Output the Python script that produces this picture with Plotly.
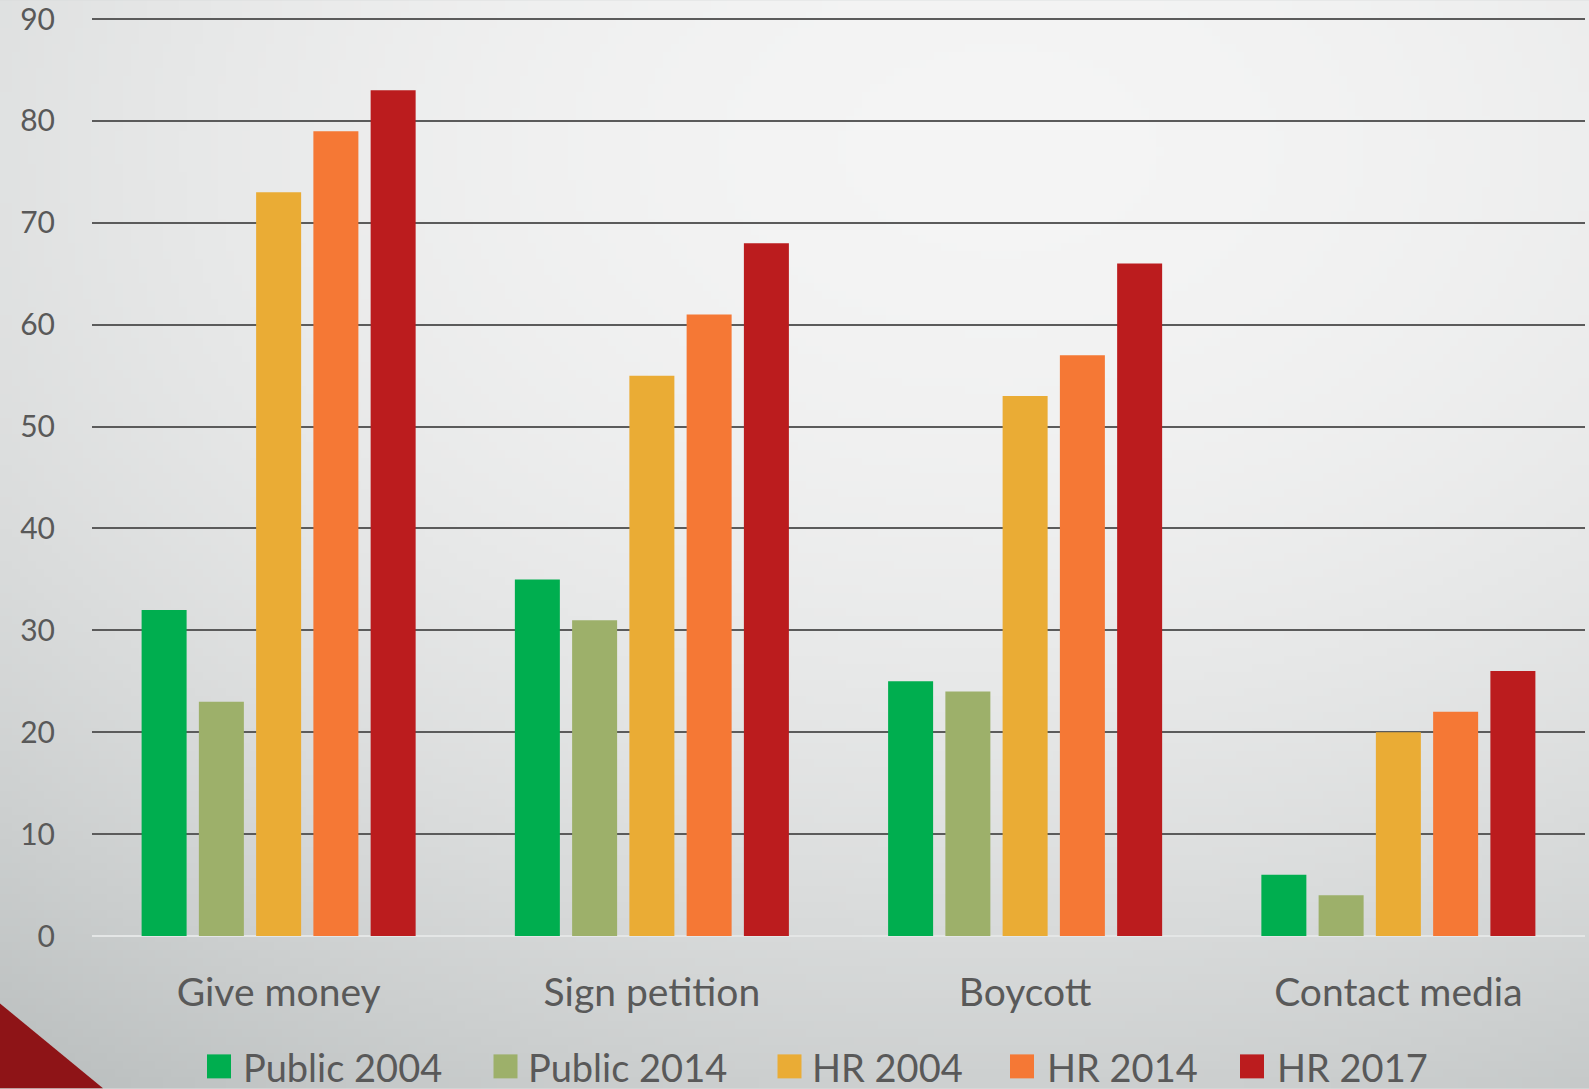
import base64
import struct
import zlib

import plotly.graph_objects as go

# ---------------- data ----------------
categories = ["Give money", "Sign petition", "Boycott", "Contact media"]
series_names = ["Public 2004", "Public 2014", "HR 2004", "HR 2014", "HR 2017"]
public_2004 = [32, 35, 25, 6]
public_2014 = [23, 31, 24, 4]
hr_2004 = [73, 55, 53, 20]
hr_2014 = [79, 61, 57, 22]
hr_2017 = [83, 68, 66, 26]
y_tick_values = [0, 10, 20, 30, 40, 50, 60, 70, 80, 90]

series_values = [public_2004, public_2014, hr_2004, hr_2014, hr_2017]
series_colors = ["#00AE4F", "#9DB06A", "#EAAC35", "#F57835", "#BB1C1E"]

# ---------------- geometry ----------------
W, H = 1589, 1089
Y_TOP = 90.3
PX_PER_UNIT = (936.5 - 18.7) / 90.0
L, R, B = 92, 4, 1089 - 936.5
T = 936.5 - Y_TOP * PX_PER_UNIT
pw = W - L - R
ph = H - T - B
FONT = "Lato"
TXT = "#595959"


def px(x):
    return (x - L) / pw


def py(y):
    return (H - B - y) / ph


# ---------------- background gradient (png) ----------------
def make_png(w, h, rows):
    raw = b"".join(b"\x00" + bytes(r) for r in rows)

    def chunk(t, d):
        c = struct.pack(">I", len(d)) + t + d
        return c + struct.pack(">I", zlib.crc32(t + d) & 0xFFFFFFFF)

    return (
        b"\x89PNG\r\n\x1a\n"
        + chunk(b"IHDR", struct.pack(">IIBBBBB", w, h, 8, 2, 0, 0, 0))
        + chunk(b"IDAT", zlib.compress(raw, 9))
        + chunk(b"IEND", b"")
    )


gw, gh = 200, 137
rows = []
for j in range(gh):
    yy = (j + 0.5) / gh * H
    row = []
    for i in range(gw):
        xx = (i + 0.5) / gw * W
        v = 244 - 1.85e-5 * ((xx - 1000) ** 2 + (1.5 * (yy - 150)) ** 2)
        v = max(188, min(245, v))
        r = v - (244 - v) * 0.08
        row += [int(round(r)), int(round(v)), int(round(v))]
    rows.append(row)
bg_src = "data:image/png;base64," + base64.b64encode(make_png(gw, gh, rows)).decode()

# ---------------- figure ----------------
fig = go.Figure()
for name, vals, col in zip(series_names, series_values, series_colors):
    fig.add_trace(
        go.Bar(
            x=categories,
            y=vals,
            name=name,
            marker=dict(color=col, line=dict(width=0)),
            showlegend=False,
        )
    )

shapes = [
    # decorative red corner triangle
    dict(
        type="path",
        xref="paper",
        yref="paper",
        path=f"M {px(0)},{py(1004)} L {px(103)},{py(1089)} L {px(0)},{py(1089)} Z",
        fillcolor="#8E1417",
        line=dict(width=0),
        layer="above",
    )
]
annotations = []

legend_sq_left = [207, 493.5, 777.5, 1010, 1240]
legend_txt_left = [242.5, 528, 812, 1046.5, 1276.5]
for name, col, sx, tx in zip(series_names, series_colors, legend_sq_left, legend_txt_left):
    shapes.append(
        dict(
            type="rect",
            xref="paper",
            yref="paper",
            x0=px(sx),
            x1=px(sx + 24),
            y0=py(1079),
            y1=py(1055),
            fillcolor=col,
            line=dict(width=0),
            layer="above",
        )
    )
    annotations.append(
        dict(
            xref="paper",
            yref="paper",
            x=px(tx - 2),
            y=py(1068),
            xanchor="left",
            yanchor="middle",
            text=name,
            showarrow=False,
            font=dict(family=FONT, size=38, color=TXT),
        )
    )

fig.update_layout(
    width=W,
    height=H,
    margin=dict(l=L, r=R, t=T, b=B, autoexpand=False),
    paper_bgcolor="#d8dbdb",
    plot_bgcolor="rgba(0,0,0,0)",
    barmode="group",
    bargap=0.233,
    bargroupgap=0.214,
    showlegend=False,
    font=dict(family=FONT, color=TXT),
    shapes=shapes,
    annotations=annotations,
    images=[
        dict(
            source=bg_src,
            xref="paper",
            yref="paper",
            x=px(0),
            y=py(0),
            sizex=W / pw,
            sizey=H / ph,
            xanchor="left",
            yanchor="top",
            sizing="stretch",
            layer="below",
        )
    ],
)

fig.update_xaxes(
    showgrid=False,
    showline=False,
    ticks="",
    tickfont=dict(family=FONT, size=39, color=TXT),
    ticklabelstandoff=30,
    zeroline=False,
)
fig.update_yaxes(
    range=[0, Y_TOP],
    tickvals=y_tick_values,
    ticktext=[str(v) for v in y_tick_values],
    showgrid=True,
    gridcolor="#5b5b5b",
    gridwidth=2,
    zeroline=True,
    zerolinecolor="#e4e6e6",
    zerolinewidth=2,
    showline=False,
    ticks="",
    tickfont=dict(family=FONT, size=30, color=TXT),
    ticklabelstandoff=36,
    ticklabeloverflow="allow",
)

fig.write_html(
    "out.html",
    config={"displayModeBar": False},
    post_script="document.body.style.margin='0';document.body.style.overflow='hidden';",
)
